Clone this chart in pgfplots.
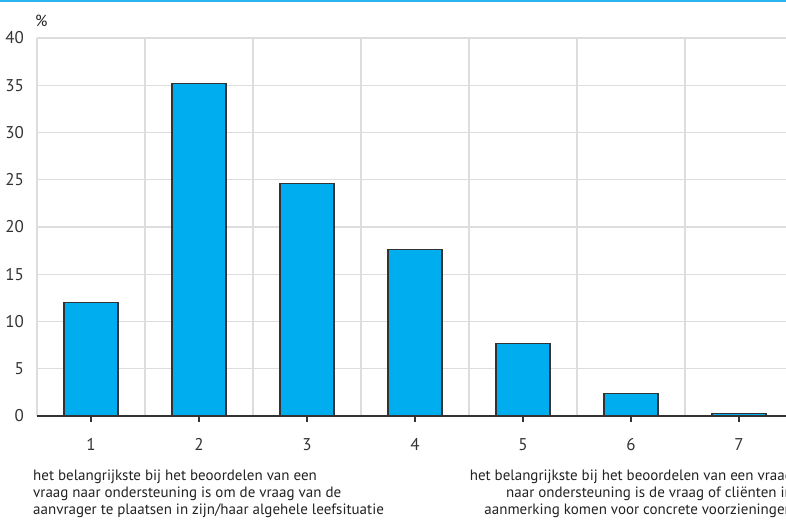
\documentclass[border=0pt]{standalone}
\usepackage{pgfplots}
\pgfplotsset{compat=1.18}
\usepackage{fontspec}
\setmainfont{PT Sans}
\definecolor{barblue}{RGB}{0,174,239}
\definecolor{topblue}{RGB}{41,182,240}
\definecolor{gridgray}{RGB}{221,221,221}
\definecolor{axisgray}{RGB}{51,51,51}
\definecolor{txt}{RGB}{34,34,34}
\begin{document}
\begin{tikzpicture}[x=1pt,y=1pt]
\useasboundingbox (0,0) rectangle (786,519);
\clip (0,0) rectangle (786,519);
\fill[topblue] (0,517.3) rectangle (786,519);
\begin{axis}[
  at={(37pt,103pt)}, anchor=south west,
  scale only axis, width=756pt, height=378pt,
  xmin=0.5, xmax=7.5, ymin=0, ymax=40,
  axis lines*=left,
  y axis line style={draw=none},
  x axis line style={draw=axisgray, line width=1.2pt},
  xtick={1,2,3,4,5,6,7},
  minor xtick={0.5,1.5,2.5,3.5,4.5,5.5,6.5,7.5},
  ytick={0,5,10,15,20,25,30,35,40},
  ymajorgrids=true, xminorgrids=true,
  grid style={draw=gridgray, line width=1.2pt},
  minor grid style={draw=gridgray, line width=1.2pt},
  major tick length=6pt, minor tick length=0pt,
  tick align=outside,
  xtick style={draw=axisgray, line width=1.2pt},
  ytick style={draw=none},
  /pgf/number format/assume math mode=true,
  ticklabel style={font=\fontsize{17}{17}\selectfont, text=axisgray},
  yticklabel style={anchor=east, inner sep=0pt, xshift=-7pt},
  xticklabel style={anchor=base, inner sep=0pt, yshift=-28pt},
  ybar, bar width=0.5, bar shift=0pt,
  clip=false,
]
\addplot[fill=barblue, draw=axisgray, line width=1.1pt] coordinates {
  (1,12.0) (2,35.2) (3,24.6) (4,17.6) (5,7.7) (6,2.4) (7,0.3)
};
\end{axis}
\node[anchor=base west, inner sep=0pt, text=txt, font=\fontsize{16}{16}\selectfont] at (35,492) {\%};
\begin{scope}[every node/.style={inner sep=0pt, text=txt, font=\fontsize{15}{16}\selectfont}]
\node[anchor=base west] at (33,39) {het belangrijkste bij het beoordelen van een};
\node[anchor=base west] at (33,22) {vraag naar ondersteuning is om de vraag van de};
\node[anchor=base west] at (33,5) {aanvrager te plaatsen in zijn/haar algehele leefsituatie};
\node[anchor=base east] at (793,39) {het belangrijkste bij het beoordelen van een vraag};
\node[anchor=base east] at (793,22) {naar ondersteuning is de vraag of cliënten in};
\node[anchor=base east] at (793,5) {aanmerking komen voor concrete voorzieningen};
\end{scope}
\end{tikzpicture}
\end{document}
